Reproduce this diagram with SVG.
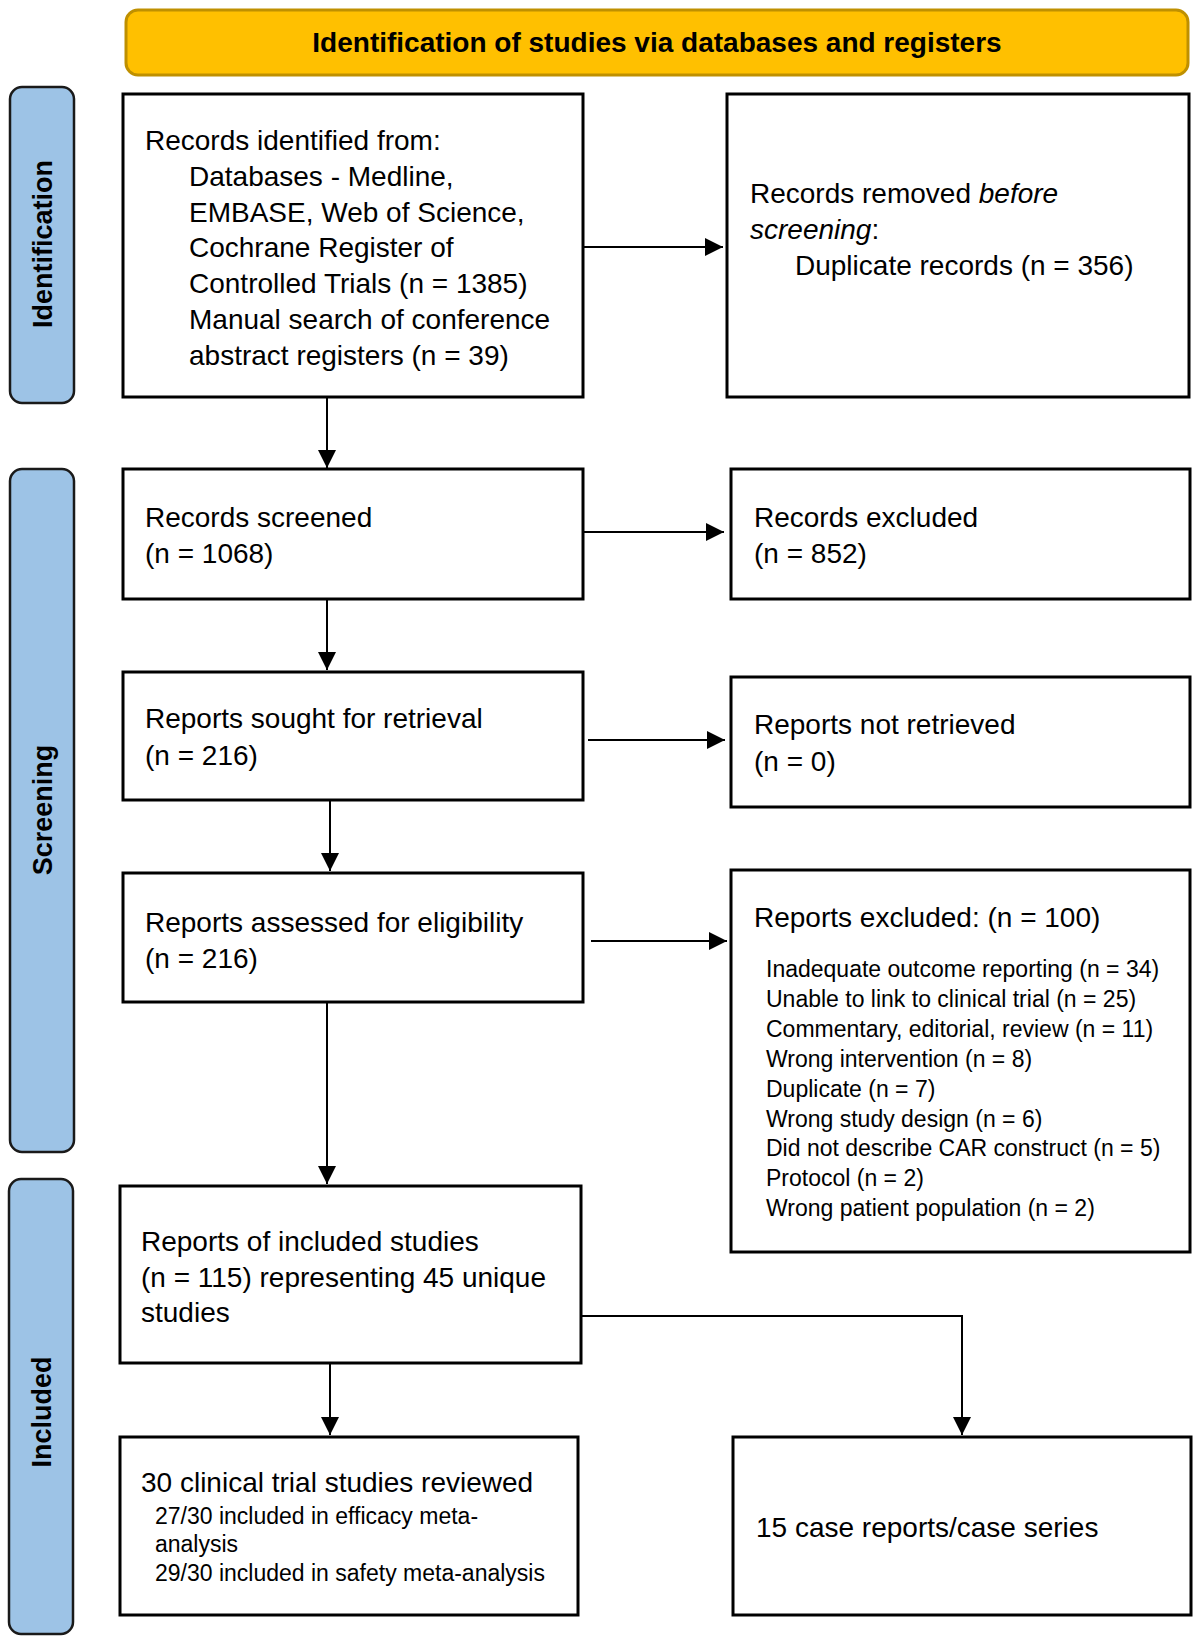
<svg xmlns="http://www.w3.org/2000/svg" width="1200" height="1644" viewBox="0 0 1200 1644">
<style>
.box{fill:#fff;stroke:#000;stroke-width:3}
.side{fill:#9DC3E6;stroke:#1a1a1a;stroke-width:2.5}
.t{font-family:"Liberation Sans",Arial,Helvetica,sans-serif;font-size:28px;fill:#000}
.s{font-family:"Liberation Sans",Arial,Helvetica,sans-serif;font-size:23px;fill:#000}
.b{font-family:"Liberation Sans",Arial,Helvetica,sans-serif;font-size:28px;font-weight:bold;fill:#000}
.sl{font-family:"Liberation Sans",Arial,Helvetica,sans-serif;font-size:27px;font-weight:bold;fill:#000;text-anchor:middle}
.c{fill:none;stroke:#000;stroke-width:2}
</style>
<defs>
<marker id="ah" markerUnits="userSpaceOnUse" markerWidth="18" markerHeight="18" refX="18" refY="9" orient="auto">
<path d="M0,0 L18,9 L0,18 z" fill="#000"/>
</marker>
</defs>
<rect width="1200" height="1644" fill="#fff"/>

<g id="header">
<rect x="126" y="10" width="1062" height="65" rx="12" fill="#FFC000" stroke="#BF9000" stroke-width="3"/>
<text class="b" x="657" y="52" text-anchor="middle">Identification of studies via databases and registers</text>
</g>

<g id="side-identification">
<rect class="side" x="10" y="87" width="64" height="316" rx="12"/>
<text class="sl" transform="translate(52,244) rotate(-90)">Identification</text>
</g>
<g id="side-screening">
<rect class="side" x="10" y="469" width="64" height="683" rx="12"/>
<text class="sl" transform="translate(52,810) rotate(-90)">Screening</text>
</g>
<g id="side-included">
<rect class="side" x="9" y="1179" width="64" height="455" rx="12"/>
<text class="sl" transform="translate(51,1412) rotate(-90)">Included</text>
</g>

<g id="records-identified">
<rect class="box" x="123" y="94" width="460" height="303"/>
<text class="t" x="145" y="150">Records identified from:</text>
<text class="t" x="189" y="186">Databases - Medline,</text>
<text class="t" x="189" y="222">EMBASE, Web of Science,</text>
<text class="t" x="189" y="257">Cochrane Register of</text>
<text class="t" x="189" y="293">Controlled Trials (n = 1385)</text>
<text class="t" x="189" y="329">Manual search of conference</text>
<text class="t" x="189" y="365">abstract registers (n = 39)</text>
</g>

<g id="records-removed">
<rect class="box" x="727" y="94" width="462" height="303"/>
<text class="t" x="750" y="203">Records removed <tspan font-style="italic">before</tspan></text>
<text class="t" x="750" y="239"><tspan font-style="italic">screening</tspan>:</text>
<text class="t" x="795" y="275">Duplicate records (n = 356)</text>
</g>

<g id="records-screened">
<rect class="box" x="123" y="469" width="460" height="130"/>
<text class="t" x="145" y="527">Records screened</text>
<text class="t" x="145" y="563">(n = 1068)</text>
</g>

<g id="records-excluded">
<rect class="box" x="731" y="469" width="459" height="130"/>
<text class="t" x="754" y="527">Records excluded</text>
<text class="t" x="754" y="563">(n = 852)</text>
</g>

<g id="reports-sought">
<rect class="box" x="123" y="672" width="460" height="128"/>
<text class="t" x="145" y="728">Reports sought for retrieval</text>
<text class="t" x="145" y="765">(n = 216)</text>
</g>

<g id="reports-not-retrieved">
<rect class="box" x="731" y="677" width="459" height="130"/>
<text class="t" x="754" y="734">Reports not retrieved</text>
<text class="t" x="754" y="771">(n = 0)</text>
</g>

<g id="reports-assessed">
<rect class="box" x="123" y="873" width="460" height="129"/>
<text class="t" x="145" y="932">Reports assessed for eligibility</text>
<text class="t" x="145" y="968">(n = 216)</text>
</g>

<g id="reports-excluded">
<rect class="box" x="731" y="870" width="459" height="382"/>
<text class="t" x="754" y="927">Reports excluded: (n = 100)</text>
<text class="s" x="766" y="977">Inadequate outcome reporting (n = 34)</text>
<text class="s" x="766" y="1007">Unable to link to clinical trial (n = 25)</text>
<text class="s" x="766" y="1037">Commentary, editorial, review (n = 11)</text>
<text class="s" x="766" y="1067">Wrong intervention (n = 8)</text>
<text class="s" x="766" y="1097">Duplicate (n = 7)</text>
<text class="s" x="766" y="1127">Wrong study design (n = 6)</text>
<text class="s" x="766" y="1156">Did not describe CAR construct (n = 5)</text>
<text class="s" x="766" y="1186">Protocol (n = 2)</text>
<text class="s" x="766" y="1216">Wrong patient population (n = 2)</text>
</g>

<g id="reports-included">
<rect class="box" x="120" y="1186" width="461" height="177"/>
<text class="t" x="141" y="1251">Reports of included studies</text>
<text class="t" x="141" y="1287">(n = 115) representing 45 unique</text>
<text class="t" x="141" y="1322">studies</text>
</g>

<g id="clinical-trials">
<rect class="box" x="120" y="1437" width="458" height="178"/>
<text class="t" x="141" y="1492">30 clinical trial studies reviewed</text>
<text class="s" x="155" y="1524">27/30 included in efficacy meta-</text>
<text class="s" x="155" y="1552">analysis</text>
<text class="s" x="155" y="1581">29/30 included in safety meta-analysis</text>
</g>

<g id="case-reports">
<rect class="box" x="733" y="1437" width="458" height="178"/>
<text class="t" x="756" y="1537">15 case reports/case series</text>
</g>

<g id="connectors">
<line class="c" x1="583" y1="247" x2="723" y2="247" marker-end="url(#ah)"/>
<line class="c" x1="327" y1="397" x2="327" y2="468" marker-end="url(#ah)"/>
<line class="c" x1="583" y1="532" x2="724" y2="532" marker-end="url(#ah)"/>
<line class="c" x1="327" y1="599" x2="327" y2="670" marker-end="url(#ah)"/>
<line class="c" x1="588" y1="740" x2="725" y2="740" marker-end="url(#ah)"/>
<line class="c" x1="330" y1="800" x2="330" y2="871" marker-end="url(#ah)"/>
<line class="c" x1="591" y1="941" x2="727" y2="941" marker-end="url(#ah)"/>
<line class="c" x1="327" y1="1002" x2="327" y2="1184" marker-end="url(#ah)"/>
<line class="c" x1="330" y1="1363" x2="330" y2="1435" marker-end="url(#ah)"/>
<polyline class="c" points="581,1316 962,1316 962,1435" marker-end="url(#ah)"/>
</g>
</svg>
